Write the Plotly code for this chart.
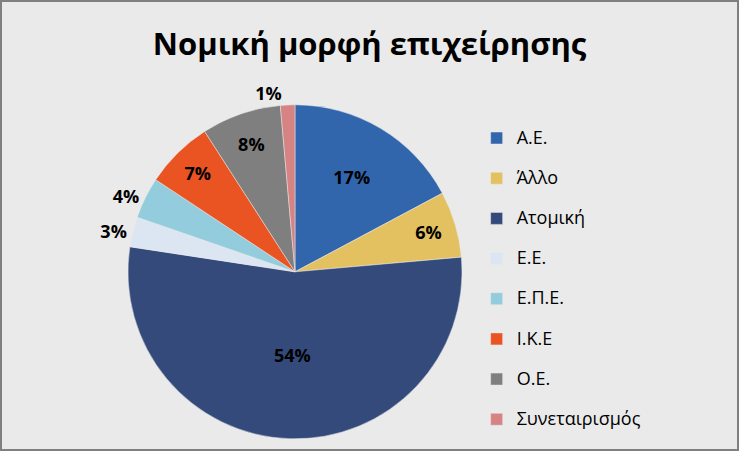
import plotly.graph_objects as go

labels = ["Α.Ε.", "Άλλο", "Ατομική", "Ε.Ε.", "Ε.Π.Ε.", "Ι.Κ.Ε", "Ο.Ε.", "Συνεταιρισμός"]
shares = [17.2, 6.4, 53.8, 2.9, 4.0, 6.6, 7.7, 1.4]
colors = ["#3166AD", "#E3C161", "#334A7B", "#DCE6F2", "#93CDDD", "#EA5422", "#7F7F7F", "#D58383"]
label_pos = ["inside", "inside", "inside", "outside", "outside", "inside", "inside", "outside"]

FONT = "Open Sans, Noto Sans, sans-serif"

# legend entries get an empty second line so the rows are spaced like the original
legend_names = ['<span style="font-size:18px">%s</span><br>&nbsp;' % s for s in labels]

fig = go.Figure(
    go.Pie(
        labels=legend_names,
        values=shares,
        sort=False,
        direction="clockwise",
        rotation=0,
        marker=dict(colors=colors, line=dict(color="#EAEAEA", width=0.5)),
        texttemplate="<b>%{percent:.0%}</b>",
        textposition=label_pos,
        insidetextorientation="horizontal",
        textfont=dict(family=FONT, size=18, color="#000000"),
        insidetextfont=dict(family=FONT, size=18, color="#000000"),
        outsidetextfont=dict(family=FONT, size=18, color="#000000"),
        hoverinfo="label+percent",
        domain=dict(x=[0.1732, 0.6252], y=[0.027, 0.7676]),
    )
)

fig.update_layout(
    width=739,
    height=451,
    margin=dict(l=0, r=0, t=0, b=0, autoexpand=False),
    paper_bgcolor="#EAEAEA",
    plot_bgcolor="#EAEAEA",
    font=dict(family=FONT, color="#000000"),
    title=dict(
        text="<b>Νομική μορφή επιχείρησης</b>",
        x=0.5,
        y=0.903,
        xanchor="center",
        yanchor="middle",
        font=dict(family=FONT, size=31, color="#000000"),
    ),
    showlegend=True,
    legend=dict(
        x=0.645,
        y=0.729,
        xanchor="left",
        yanchor="top",
        font=dict(family=FONT, size=14.3, color="#000000"),
        valign="top",
        bgcolor="rgba(0,0,0,0)",
        itemclick=False,
    ),
    shapes=[
        dict(type="rect", xref="paper", yref="paper", x0=0, y0=0, x1=1, y1=1,
             line=dict(color="#808080", width=4)),
    ],
)

# drop the page's default body margin so the figure sits at the window's corner
fig.write_html(
    "out.html",
    config={"displayModeBar": False},
    post_script="document.body.style.margin='0';",
)
